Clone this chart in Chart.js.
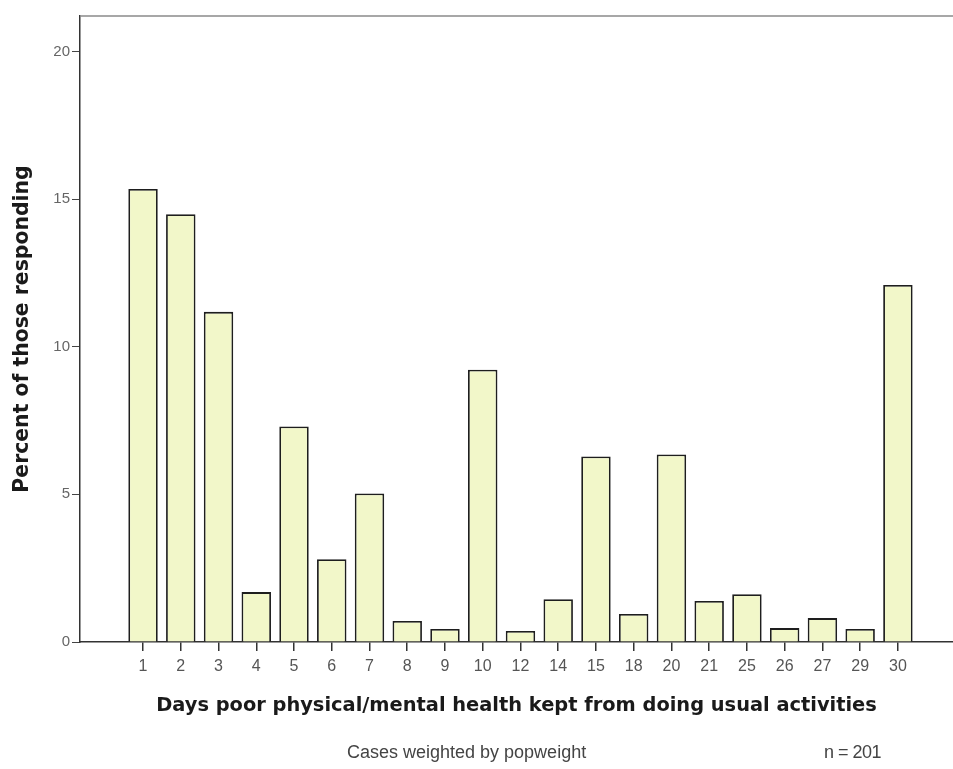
<!DOCTYPE html>
<html>
<head>
<meta charset="utf-8">
<title>Days poor health kept from usual activities</title>
<script src="https://cdn.jsdelivr.net/npm/chart.js@4.4.1/dist/chart.umd.min.js"></script>
<style>
  html, body { margin: 0; padding: 0; background: #fff; }
  #wrap { position: relative; width: 953px; height: 769px; overflow: hidden; }
  #chart { display: block; }
  .note {
    position: absolute; top: 742px; font-family: "Liberation Sans", Arial, sans-serif;
    font-size: 18px; color: #444; white-space: nowrap;
  }
</style>
</head>
<body>
<div id="wrap">
  <canvas id="chart" width="953" height="769"></canvas>
  <div class="note" style="left:347px;">Cases weighted by popweight</div>
  <div class="note" style="left:824px; letter-spacing:-0.5px;">n = 201</div>
</div>
<script>
const days = ["1", "2", "3", "4", "5", "6", "7", "8", "9", "10", "12", "14", "15", "18", "20", "21", "25", "26", "27", "29", "30"];
const percent = [15.34, 14.49, 11.18, 1.69, 7.30, 2.80, 5.03, 0.71, 0.44, 9.22, 0.37, 1.45, 6.28, 0.95, 6.35, 1.39, 1.62, 0.47, 0.81, 0.44, 12.09];
const yTicks = [0, 5, 10, 15, 20];

// grey frame line along the top of the plot
const topFrame = {
  id: "topFrame",
  afterDraw(chart) {
    const { ctx, chartArea } = chart;
    ctx.save();
    ctx.strokeStyle = "#8a8a8a";
    ctx.lineWidth = 1.5;
    ctx.beginPath();
    ctx.moveTo(chartArea.left, chartArea.top);
    ctx.lineTo(chartArea.right, chartArea.top);
    ctx.stroke();
    ctx.restore();
  }
};

new Chart(document.getElementById("chart"), {
  type: "bar",
  data: {
    datasets: [{
      label: "Percent",
      data: percent.map((v, i) => ({ x: i, y: v })),
      backgroundColor: "#f2f7c9",
      borderColor: "#1e1e1e",
      borderWidth: 1.8,
      barPercentage: 0.78,
      categoryPercentage: 1
    }]
  },
  options: {
    responsive: false,
    animation: false,
    layout: { padding: { top: 16, right: 0, bottom: 47, left: 0 } },
    plugins: {
      legend: { display: false },
      tooltip: { enabled: true }
    },
    scales: {
      x: {
        type: "linear",
        offset: false,
        min: -1.67,
        max: 21.46,
        afterBuildTicks(scale) {
          scale.ticks = days.map((d, i) => ({ value: i }));
        },
        afterFit(scale) { scale.height = 80; },
        ticks: {
          callback: (v) => days[v],
          color: "#555",
          font: { family: "'Liberation Sans', Arial", size: 16 },
          padding: 6,
          maxRotation: 0,
          autoSkip: false
        },
        grid: { offset: false, drawOnChartArea: false, drawTicks: true, tickLength: 9, color: "#333", lineWidth: 1.5 },
        border: { display: true, color: "#333", width: 1.5 },
        title: {
          display: true,
          text: "Days poor physical/mental health kept from doing usual activities",
          color: "#1a1a1a",
          font: { family: "'DejaVu Sans', Verdana", size: 19.4, weight: "bold" },
          padding: { top: 4, bottom: 4 }
        }
      },
      y: {
        min: 0,
        max: 21.2,
        afterBuildTicks(scale) {
          scale.ticks = yTicks.map((v) => ({ value: v }));
        },
        afterFit(scale) { scale.width = 80; },
        ticks: {
          color: "#666",
          font: { family: "'Liberation Sans', Arial", size: 15 },
          padding: 2
        },
        grid: { drawOnChartArea: false, drawTicks: true, tickLength: 8, color: "#444", lineWidth: 1 },
        border: { display: true, color: "#333", width: 1.5 },
        title: {
          display: true,
          text: "Percent of those responding",
          color: "#1a1a1a",
          font: { family: "'DejaVu Sans', Verdana", size: 20.4, weight: "bold" },
          padding: { top: 10, bottom: 4 }
        }
      }
    }
  },
  plugins: [topFrame]
});
</script>
</body>
</html>
